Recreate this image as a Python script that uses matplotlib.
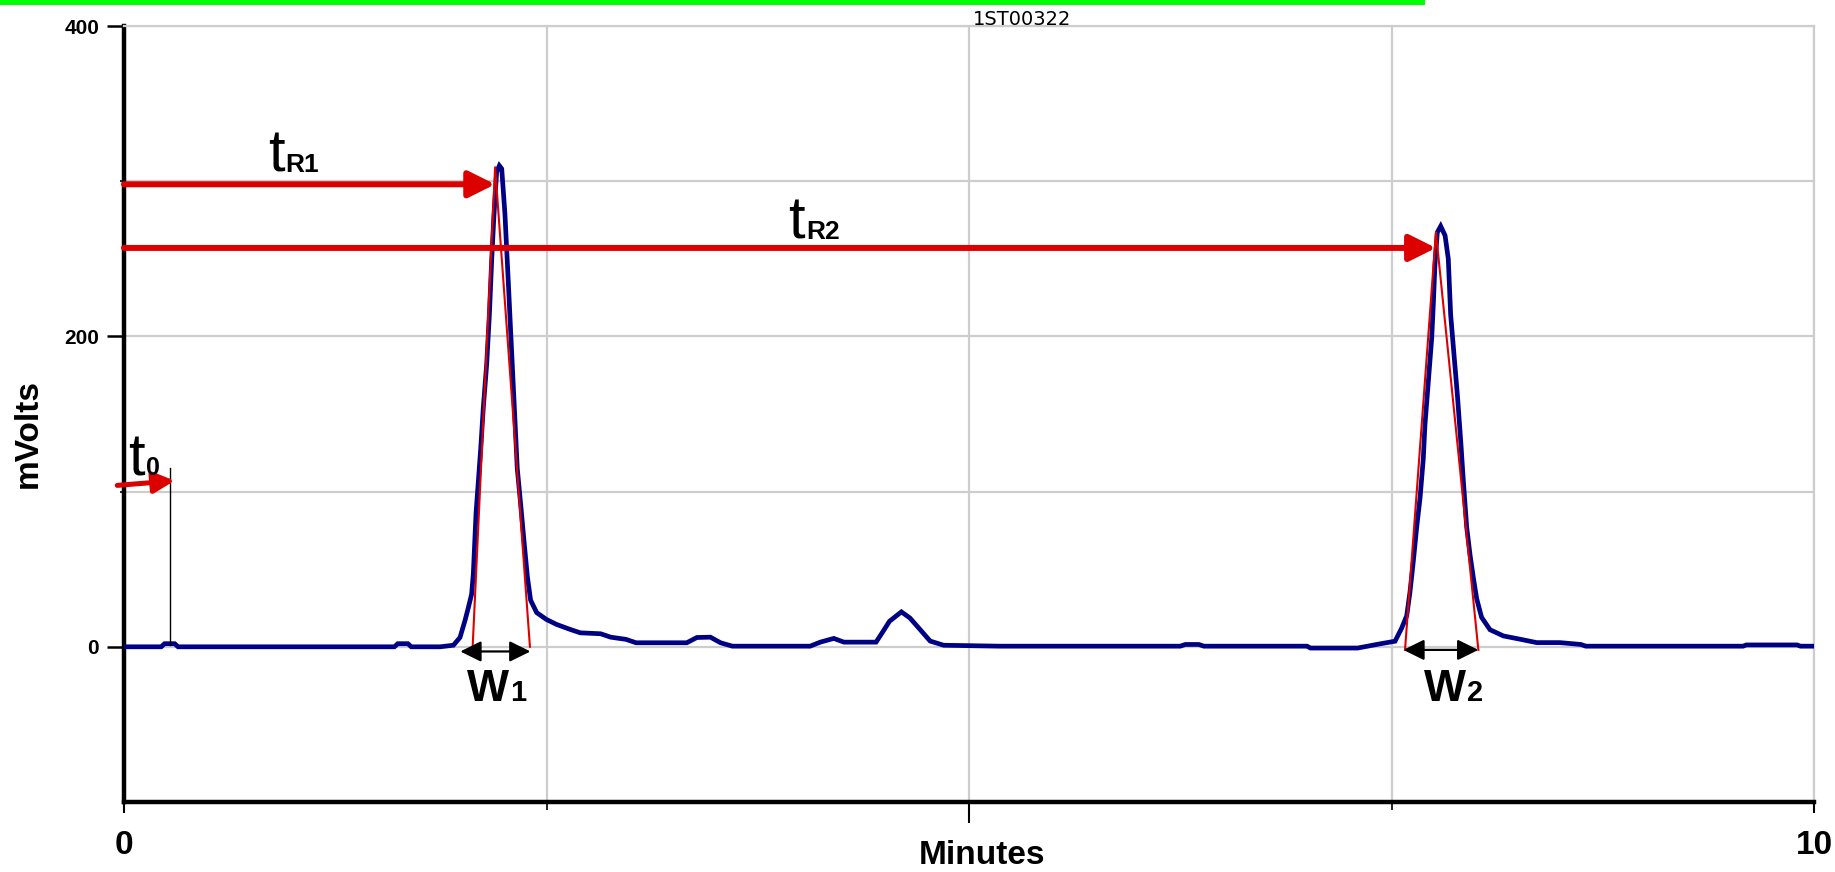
import matplotlib
matplotlib.use("Agg")
import matplotlib.pyplot as plt
from matplotlib import font_manager
from matplotlib.patches import Rectangle
from matplotlib.transforms import IdentityTransform

# ---- chromatogram trace (time in minutes, signal in mV) ----
trace_min = [0.00, 0.22, 0.24, 0.30, 0.32, 1.60, 1.62, 1.68, 1.70, 1.87,
             1.949, 1.988, 2.018, 2.037, 2.057, 2.067, 2.083, 2.097, 2.111, 2.126,
             2.146, 2.162, 2.176, 2.189, 2.205, 2.221, 2.235, 2.254, 2.274, 2.288,
             2.308, 2.327, 2.347, 2.367, 2.387, 2.406, 2.442, 2.50, 2.56, 2.64,
             2.70, 2.82, 2.88, 2.97, 3.03, 3.33, 3.39, 3.47, 3.53, 3.60,
             4.06, 4.12, 4.20, 4.26, 4.45, 4.48, 4.53, 4.60, 4.65, 4.71,
             4.77, 4.85, 5.18, 6.25, 6.28, 6.36, 6.39, 7.00, 7.02, 7.30,
             7.432, 7.521, 7.560, 7.590, 7.609, 7.629, 7.649, 7.669, 7.688, 7.698,
             7.718, 7.738, 7.748, 7.757, 7.771, 7.791, 7.817, 7.836, 7.850, 7.870,
             7.890, 7.910, 7.925, 7.945, 7.965, 7.985, 8.004, 8.033, 8.083, 8.162,
             8.260, 8.359, 8.497, 8.62, 8.65, 9.58, 9.60, 9.90, 9.92, 10.00]
trace_mv = [0.0, 0.0, 2.0, 2.0, 0.0, 0.0, 2.0, 2.0, 0.0, 0.0,
            1.0, 6.0, 17.0, 25.0, 34.0, 47.0, 86.0, 107.0, 128.0, 154.0,
            182.0, 214.0, 250.0, 278.0, 306.0, 310.0, 308.0, 279.0, 235.0, 203.0,
            158.0, 115.0, 92.0, 68.0, 45.0, 30.0, 22.0, 17.6, 14.4, 11.2,
            9.0, 8.4, 6.2, 4.8, 2.6, 2.6, 6.0, 6.2, 2.6, 0.4,
            0.4, 3.0, 5.4, 3.0, 3.0, 8.0, 16.5, 22.5, 18.6, 11.2,
            3.7, 1.0, 0.4, 0.4, 1.5, 1.5, 0.4, 0.4, -0.8, -0.8,
            1.9, 3.6, 12.0, 20.0, 35.0, 55.0, 77.0, 96.0, 121.0, 143.0,
            171.0, 199.0, 222.0, 246.0, 267.0, 271.0, 265.0, 250.0, 214.0, 188.0,
            162.0, 132.0, 107.0, 77.0, 59.0, 44.0, 31.0, 19.0, 11.0, 7.0,
            4.9, 2.7, 2.7, 1.5, 0.4, 0.4, 1.2, 1.2, 0.4, 0.4]

# ---- peak construction (retention time, apex height, tangent base ends) ----
peak_apex_min = [2.196, 7.763]
peak_apex_mv = [309.0, 267.0]
base_left_min = [2.063, 7.580]
base_right_min = [2.402, 8.014]
base_mv = [0.0, -2.0]

# retention-time arrows: level in mV for each
tr_arrow_mv = [298.0, 257.0]
# peak-width arrows
width_left_min = [1.990, 7.570]
width_right_min = [2.405, 8.014]
width_arrow_mv = [-3.0, -2.0]

# dead time marker
t0_min = 0.272
t0_top_mv = 115.0

names = {f.name for f in font_manager.fontManager.ttflist}
NARROW = "Liberation Sans Narrow" if "Liberation Sans Narrow" in names else "Liberation Sans"

RED = "#dd0000"
NAVY = "#000085"
GRID = "#cdcdcd"

fig = plt.figure(figsize=(18.35, 8.72), dpi=100)
fig.patch.set_facecolor("white")
ax = fig.add_axes([124 / 1835, 70 / 872, 1690 / 1835, 776 / 872])
ax.set_xlim(0, 10)
ax.set_ylim(-100, 400)

# grid and frame
ax.set_xticks([0, 5, 10])
ax.set_xticks([2.5, 7.5], minor=True)
ax.set_yticks([0, 200, 400])
ax.set_yticks([100, 300], minor=True)
ax.grid(which="both", color=GRID, lw=1.6)
ax.set_axisbelow(True)
for side in ("top", "right"):
    ax.spines[side].set_color(GRID)
    ax.spines[side].set_linewidth(1.6)
for side in ("left", "bottom"):
    ax.spines[side].set_color("black")
    ax.spines[side].set_linewidth(3.2)

ax.set_xticklabels(["0", "", "10"])
ax.set_yticklabels(["0", "200", "400"])
ax.tick_params(axis="x", which="major", length=8, width=1.5, pad=12,
               labelsize=24)
ax.tick_params(axis="x", which="minor", length=6, width=1.2)
ax.tick_params(axis="y", which="major", length=12, width=1.8, pad=6,
               labelsize=15)
ax.tick_params(axis="y", which="minor", length=3, width=1.2)
ax.xaxis.get_major_ticks()[1].tick1line.set_markersize(15)
for lab in ax.get_xticklabels() + ax.get_yticklabels():
    lab.set_family(NARROW)
    lab.set_fontweight("bold")

# trace
ax.plot(trace_min, trace_mv, color=NAVY, lw=3.4, solid_joinstyle="miter", zorder=3)

# tangent triangles
for apx, apy, bl, br, by in zip(peak_apex_min, peak_apex_mv, base_left_min,
                                base_right_min, base_mv):
    ax.plot([bl, apx, br], [by, apy, by], color=RED, lw=1.5, zorder=4)

# retention-time arrows
for apx, lvl in zip(peak_apex_min, tr_arrow_mv):
    ax.annotate("", xy=(apx, lvl), xytext=(0, lvl), annotation_clip=False,
                arrowprops=dict(arrowstyle="-|>,head_length=1.0,head_width=0.5",
                                mutation_scale=16, color=RED, lw=4.3,
                                shrinkA=0, shrinkB=0), zorder=5)

# width arrows
for wl, wr, wy in zip(width_left_min, width_right_min, width_arrow_mv):
    ax.annotate("", xy=(wr, wy), xytext=(wl, wy), annotation_clip=False,
                arrowprops=dict(arrowstyle="<|-|>,head_length=0.85,head_width=0.42",
                                mutation_scale=15, color="black", lw=1.6,
                                shrinkA=0, shrinkB=0), zorder=5)

# dead time marker
ax.plot([t0_min, t0_min], [1, t0_top_mv], color="black", lw=1.0, zorder=4)
ax.annotate("", xy=(0.30, 107), xytext=(-0.04, 104), annotation_clip=False,
            arrowprops=dict(arrowstyle="-|>,head_length=0.9,head_width=0.45",
                            mutation_scale=14, color=RED, lw=3.6,
                            shrinkA=0, shrinkB=0), zorder=5)

# labels with baseline-aligned subscripts
labels = [
    (0.852, 306.0, "t", "R1", 43, 19),
    (3.930, 263.0, "t", "R2", 43, 19),
    (0.024, 110.6, "t", "0", 43, 18),
    (2.030, -34.7, "W", "1", 32, 21),
    (7.690, -34.7, "W", "2", 32, 21),
]
mains = []
for x, y, main, sub, s_main, s_sub in labels:
    t = ax.text(x, y, main, fontsize=s_main, family=NARROW, ha="left",
                va="baseline", color="black", zorder=6, clip_on=False,
                fontweight="bold" if main == "W" else "normal")
    mains.append((t, x, y, sub, s_sub))

# header text
ax.annotate("1ST00322", xy=(5.02, 1.0), xycoords=("data", "axes fraction"),
            xytext=(0, 1), textcoords="offset points", fontsize=14,
            family="DejaVu Sans", ha="left", va="baseline")

fig.text(28 / 1835, 1 - 433 / 872, "mVolts", rotation=90, ha="center",
         va="center", fontsize=24, fontweight="bold", family=NARROW)
fig.text(982 / 1835, 1 / 872, "Minutes", ha="center", va="bottom",
         fontsize=24, fontweight="bold", family=NARROW)

# bright bar across the top edge
fig.add_artist(Rectangle((0, 1 - 5 / 872), 1425 / 1835, 5 / 872,
                         transform=fig.transFigure, color="#00ff00", lw=0))

fig.canvas.draw()
renderer = fig.canvas.get_renderer()
for t, x, y, sub, s_sub in mains:
    bb = t.get_window_extent(renderer)
    base = ax.transData.transform((x, y))[1]
    fig.text(bb.x1 + 1, base, sub, transform=IdentityTransform(),
             fontsize=s_sub, family=NARROW, ha="left", va="baseline",
             color="black", zorder=6, fontweight="bold")

fig.savefig("out.png", dpi=100, facecolor="white")
